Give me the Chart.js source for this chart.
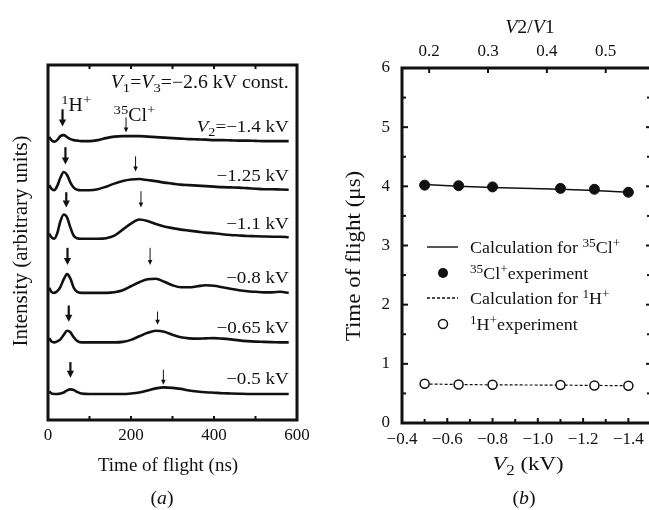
<!DOCTYPE html>
<html>
<head>
<meta charset="utf-8">
<script src="https://cdn.jsdelivr.net/npm/chart.js@4.4.0/dist/chart.umd.min.js"></script>
<style>
  html, body { margin: 0; padding: 0; background: #fff; overflow: hidden; }
  #panelA { position: absolute; left: 0; top: 0; }
  #panelB { position: absolute; left: 330px; top: 0; }
</style>
</head>
<body>
<canvas id="panelA" width="330" height="510"></canvas>
<canvas id="panelB" width="330" height="510"></canvas>
<script>
const FONT = "'Liberation Serif', 'Times New Roman', serif";
const INK = '#111';

// (a) time-of-flight spectra, one trace per V2 setting
const tofTimes = [3, 8, 15, 22, 30, 38, 46, 54, 62, 70, 80, 100, 120, 140, 160, 180, 200, 220, 240, 260,
                  280, 300, 320, 340, 360, 380, 400, 420, 440, 460, 480, 500, 520, 540, 560, 580];
const spectrumVoltages = ['−1.4', '−1.25', '−1.1', '−0.8', '−0.65', '−0.5'];
const traceOffsets = [5.0, 4.03, 3.07, 2.0, 1.02, 0];
const intensityV140 = [0.08, 0.02, -0.01, 0.02, 0.10, 0.12, 0.08, 0.04, 0.02, 0.01, 0, 0, 0.02, 0.06, 0.09, 0.10, 0.10, 0.10, 0.09, 0.08,
                       0.07, 0.06, 0.05, 0.04, 0.035, 0.03, 0.02, 0.02, 0.015, 0.01, 0.01, 0.005, 0, 0, 0, 0];
const intensityV125 = [0.10, 0.03, 0.00, 0.08, 0.25, 0.36, 0.30, 0.15, 0.05, 0.01, 0, 0, 0.02, 0.07, 0.13, 0.18, 0.21, 0.22, 0.20, 0.18,
                       0.15, 0.13, 0.11, 0.10, 0.09, 0.08, 0.07, 0.06, 0.055, 0.05, 0.04, 0.03, 0.02, 0.02, 0.015, 0.01];
const intensityV110 = [0.10, 0.03, 0.00, 0.10, 0.35, 0.48, 0.42, 0.22, 0.06, 0.01, 0, 0, 0, 0.01, 0.06, 0.18, 0.30, 0.38, 0.35, 0.29,
                       0.24, 0.21, 0.18, 0.16, 0.14, 0.12, 0.11, 0.09, 0.075, 0.065, 0.055, 0.05, 0.045, 0.04, 0.04, 0.03];
const intensityV080 = [0.10, 0.02, 0.00, 0.03, 0.12, 0.27, 0.37, 0.28, 0.10, 0.02, 0, 0, 0, 0, 0.01, 0.05, 0.13, 0.21, 0.27, 0.28,
                       0.22, 0.15, 0.11, 0.11, 0.13, 0.15, 0.14, 0.11, 0.08, 0.05, 0.03, 0.02, 0.01, 0.01, 0.02, 0];
const intensityV065 = [0.08, 0.02, 0.00, 0.02, 0.06, 0.15, 0.23, 0.20, 0.10, 0.03, 0, 0, 0, 0, 0, 0.01, 0.05, 0.12, 0.19, 0.23,
                       0.21, 0.15, 0.10, 0.08, 0.075, 0.08, 0.085, 0.075, 0.06, 0.04, 0.025, 0.015, 0.01, 0.005, 0, 0];
const intensityV050 = [0.05, 0.01, 0, 0, 0.01, 0.03, 0.07, 0.09, 0.08, 0.04, 0.01, 0, 0, 0, 0, 0, 0.01, 0.03, 0.07, 0.11,
                       0.13, 0.12, 0.10, 0.07, 0.05, 0.035, 0.025, 0.015, 0.01, 0.005, 0, 0, 0, 0, 0, 0];
const tofTickMarks = [0, 100, 200, 300, 400, 500, 600];
const tofTickLabels = [0, 200, 400, 600];
const hArrowTimes = [35, 42, 44, 47, 50, 54];
const clArrowTimes = [188, 211, 224, 246, 264, 278];

// (b) flight time against V2
const V1 = -2.6;
const v2Values = [-0.5, -0.65, -0.8, -1.1, -1.25, -1.4];
const clExperiment = [4.02, 4.01, 3.99, 3.965, 3.95, 3.90];
const clCalculation = [4.03, 4.0, 3.98, 3.95, 3.93, 3.90];
const hExperiment = [0.663, 0.651, 0.646, 0.641, 0.634, 0.629];
const hCalculation = [0.66, 0.65, 0.645, 0.64, 0.635, 0.63];
const v2TickLabels = [-0.4, -0.6, -0.8, -1.0, -1.2, -1.4];
const v2MinorTicks = [-0.5, -0.7, -0.9, -1.1, -1.3];
const ratioTickLabels = [0.2, 0.3, 0.4, 0.5];
const timeTickLabels = [0, 1, 2, 3, 4, 5, 6];
const timeMinorTicks = [0.5, 1.5, 2.5, 3.5, 4.5, 5.5];

// text with italic / super / subscript pieces
function drawRich(ctx, parts, x, y, size, align, stretch) {
  stretch = stretch || 1;
  const pieces = parts.map(([t, k]) => {
    const s = (k === 'sup' || k === 'sub') ? size * 0.74 : size;
    const f = (k === 'i' ? 'italic ' : '') + s + 'px ' + FONT;
    ctx.font = f;
    return { t, k, f, w: ctx.measureText(t).width };
  });
  const total = pieces.reduce((a, p) => a + p.w, 0) * stretch;
  const x0 = align === 'right' ? x - total : align === 'center' ? x - total / 2 : x;
  ctx.save();
  ctx.translate(x0, y);
  ctx.scale(stretch, 1);
  ctx.textAlign = 'left';
  ctx.textBaseline = 'alphabetic';
  ctx.fillStyle = INK;
  let cx = 0;
  pieces.forEach(p => {
    ctx.font = p.f;
    const dy = p.k === 'sup' ? -size * 0.4 : p.k === 'sub' ? size * 0.26 : 0;
    ctx.fillText(p.t, cx, dy);
    cx += p.w;
  });
  ctx.restore();
}

function drawArrow(ctx, x, yTop, yTip, bold) {
  const head = bold ? 7 : 5, half = bold ? 3.6 : 2.3;
  ctx.lineWidth = bold ? 2.2 : 1;
  ctx.beginPath();
  ctx.moveTo(x, yTop);
  ctx.lineTo(x, yTip - head + 1);
  ctx.stroke();
  ctx.beginPath();
  ctx.moveTo(x - half, yTip - head);
  ctx.lineTo(x + half, yTip - head);
  ctx.lineTo(x, yTip);
  ctx.closePath();
  ctx.fill();
}

function inwardTicks(ctx, scale, values, side, len, area) {
  values.forEach(v => {
    const p = scale.getPixelForValue(v);
    ctx.beginPath();
    if (side === 'bottom') { ctx.moveTo(p, area.bottom); ctx.lineTo(p, area.bottom - len); }
    if (side === 'top') { ctx.moveTo(p, area.top); ctx.lineTo(p, area.top + len); }
    if (side === 'left') { ctx.moveTo(area.left, p); ctx.lineTo(area.left + len, p); }
    if (side === 'right') { ctx.moveTo(area.right, p); ctx.lineTo(area.right - len, p); }
    ctx.stroke();
  });
}

// arrow extents above each trace baseline (data units)
const arrowExtent = {
  hTop: [0.63, 0.85, 0.92, 0.89, 0.73, 0.63], hTip: [0.29, 0.51, 0.62, 0.55, 0.41, 0.32],
  clTop: [0.47, 0.67, 0.94, 0.89, 0.61, 0.48], clTip: [0.17, 0.37, 0.62, 0.55, 0.35, 0.18]
};

const spectraDecor = {
  id: 'spectraDecor',
  afterDraw(chart) {
    const ctx = chart.ctx, a = chart.chartArea;
    const xs = chart.scales.x, ys = chart.scales.y;
    ctx.save();
    ctx.strokeStyle = INK;
    ctx.fillStyle = INK;
    ctx.lineWidth = 3;
    ctx.strokeRect(a.left, a.top, a.right - a.left, a.bottom - a.top);
    ctx.lineWidth = 2;
    inwardTicks(ctx, xs, tofTickMarks.slice(1, -1), 'bottom', 4, a);
    inwardTicks(ctx, xs, tofTickMarks.slice(1, -1), 'top', 4, a);

    traceOffsets.forEach((off, i) => {
      drawArrow(ctx, xs.getPixelForValue(hArrowTimes[i]), ys.getPixelForValue(off + arrowExtent.hTop[i]),
                ys.getPixelForValue(off + arrowExtent.hTip[i]), true);
      drawArrow(ctx, xs.getPixelForValue(clArrowTimes[i]), ys.getPixelForValue(off + arrowExtent.clTop[i]),
                ys.getPixelForValue(off + arrowExtent.clTip[i]), false);
      const parts = i === 0
        ? [['V', 'i'], ['2', 'sub'], ['=' + spectrumVoltages[i] + ' kV', '']]
        : [[spectrumVoltages[i] + ' kV', '']];
      drawRich(ctx, parts, xs.getPixelForValue(580), ys.getPixelForValue(off + 0.19), 17, 'right', 1.12);
    });

    drawRich(ctx, [['V', 'i'], ['1', 'sub'], ['=', ''], ['V', 'i'], ['3', 'sub'], ['=−2.6 kV const.', '']],
             xs.getPixelForValue(580), ys.getPixelForValue(6.06), 18, 'right', 1.1);
    drawRich(ctx, [['1', 'sup'], ['H', ''], ['+', 'sup']], xs.getPixelForValue(32), ys.getPixelForValue(5.59), 18, 'left', 1.1);
    drawRich(ctx, [['35', 'sup'], ['Cl', ''], ['+', 'sup']], xs.getPixelForValue(158), ys.getPixelForValue(5.39), 18, 'left', 1.1);

    drawRich(ctx, [['Time of flight (ns)', '']], 168, 471, 19, 'center', 1.0);
    drawRich(ctx, [['(', ''], ['a', 'i'], [')', '']], 162, 504, 18, 'center', 1.1);
    ctx.translate(27, 241);
    ctx.rotate(-Math.PI / 2);
    drawRich(ctx, [['Intensity (arbitrary units)', '']], 0, 0, 20, 'center', 1.05);
    ctx.restore();
  }
};

const tickFont = { family: FONT, size: 17 };

new Chart(document.getElementById('panelA'), {
  type: 'line',
  data: {
    datasets: [intensityV140, intensityV125, intensityV110, intensityV080, intensityV065, intensityV050].map((vals, i) => ({
      label: spectrumVoltages[i] + ' kV',
      data: vals.map((v, j) => ({ x: tofTimes[j], y: traceOffsets[i] + v })),
      borderColor: INK,
      borderWidth: 2.6,
      pointRadius: 0,
      cubicInterpolationMode: 'monotone',
      fill: false
    }))
  },
  options: {
    responsive: false,
    animation: false,
    layout: { padding: { top: 65, right: 33, left: 0, bottom: 0 } },
    plugins: { legend: { display: false }, tooltip: { enabled: false } },
    scales: {
      x: {
        type: 'linear', min: 0, max: 600,
        grid: { display: false, drawTicks: false }, border: { display: false },
        afterFit: s => { s.height = 90; },
        afterBuildTicks: s => { s.ticks = tofTickMarks.map(v => ({ value: v })); },
        ticks: {
          autoSkip: false, maxRotation: 0, padding: 5, color: INK, font: tickFont,
          callback: v => tofTickLabels.includes(v) ? String(v) : ''
        }
      },
      y: {
        type: 'linear', min: -0.515, max: 6.506,
        grid: { display: false, drawTicks: false }, border: { display: false },
        ticks: { display: false },
        afterFit: s => { s.width = 48; }
      }
    }
  },
  plugins: [spectraDecor]
});

const legendRows = [
  { y: 247, symbol: 'solid', parts: [['Calculation for ', ''], ['35', 'sup'], ['Cl', ''], ['+', 'sup']] },
  { y: 273, symbol: 'filled', parts: [['35', 'sup'], ['Cl', ''], ['+', 'sup'], ['experiment', '']] },
  { y: 298, symbol: 'dashed', parts: [['Calculation for ', ''], ['1', 'sup'], ['H', ''], ['+', 'sup']] },
  { y: 324, symbol: 'open', parts: [['1', 'sup'], ['H', ''], ['+', 'sup'], ['experiment', '']] }
];

const voltageDecor = {
  id: 'voltageDecor',
  afterDraw(chart) {
    const ctx = chart.ctx, a = chart.chartArea;
    const xs = chart.scales.x, x2 = chart.scales.x2, ys = chart.scales.y;
    ctx.save();
    ctx.strokeStyle = INK;
    ctx.fillStyle = INK;
    ctx.lineWidth = 3;
    ctx.strokeRect(a.left, a.top, a.right - a.left, a.bottom - a.top);
    ctx.lineWidth = 2;
    inwardTicks(ctx, xs, v2TickLabels.slice(1), 'bottom', 5, a);
    inwardTicks(ctx, xs, v2MinorTicks, 'bottom', 4, a);
    inwardTicks(ctx, x2, ratioTickLabels, 'top', 5, a);
    inwardTicks(ctx, ys, timeTickLabels.slice(1, -1), 'left', 6, a);
    inwardTicks(ctx, ys, timeMinorTicks, 'left', 4, a);
    inwardTicks(ctx, ys, timeTickLabels.slice(1, -1), 'right', 5, a);
    inwardTicks(ctx, ys, timeMinorTicks, 'right', 4, a);

    legendRows.forEach(row => {
      ctx.lineWidth = 1.4;
      if (row.symbol === 'solid' || row.symbol === 'dashed') {
        ctx.setLineDash(row.symbol === 'dashed' ? [3, 2] : []);
        ctx.beginPath();
        ctx.moveTo(97, row.y);
        ctx.lineTo(128, row.y);
        ctx.stroke();
        ctx.setLineDash([]);
      } else {
        ctx.beginPath();
        ctx.arc(113, row.y, row.symbol === 'filled' ? 5 : 4.5, 0, Math.PI * 2);
        if (row.symbol === 'filled') ctx.fill();
        else { ctx.lineWidth = 1.5; ctx.stroke(); }
      }
      drawRich(ctx, row.parts, 140, row.y + 6, 16, 'left', 1.12);
    });

    drawRich(ctx, [['V', 'i'], ['2', ''], ['/', ''], ['V', 'i'], ['1', '']], 200, 33, 18, 'center', 1.1);
    drawRich(ctx, [['V', 'i'], ['2', 'sub'], [' (kV)', '']], 198, 470, 19, 'center', 1.2);
    drawRich(ctx, [['(', ''], ['b', 'i'], [')', '']], 194, 504, 18, 'center', 1.1);
    ctx.translate(30, 256);
    ctx.rotate(-Math.PI / 2);
    drawRich(ctx, [['Time of flight (μs)', '']], 0, 0, 20, 'center', 1.15);
    ctx.restore();
  }
};

const pointsOf = vals => vals.map((v, i) => ({ x: v2Values[i], y: v }));

new Chart(document.getElementById('panelB'), {
  type: 'line',
  data: {
    datasets: [
      { label: '35Cl+ experiment', data: pointsOf(clExperiment), showLine: false, pointRadius: 5,
        pointBackgroundColor: INK, pointBorderColor: INK, pointBorderWidth: 1 },
      { label: '1H+ experiment', data: pointsOf(hExperiment), showLine: false, pointRadius: 4.5,
        pointBackgroundColor: '#fff', pointBorderColor: INK, pointBorderWidth: 1.5 },
      { label: 'Calculation for 35Cl+', data: pointsOf(clCalculation), borderColor: INK, borderWidth: 1.5, pointRadius: 0 },
      { label: 'Calculation for 1H+', data: pointsOf(hCalculation), borderColor: INK, borderWidth: 1.2,
        borderDash: [3, 2], pointRadius: 0 }
    ]
  },
  options: {
    responsive: false,
    animation: false,
    layout: { padding: { top: 0, right: 9, left: 0, bottom: 0 } },
    plugins: { legend: { display: false }, tooltip: { enabled: false } },
    scales: {
      x: {
        type: 'linear', position: 'bottom', reverse: true, min: -1.5, max: -0.4,
        grid: { display: false, drawTicks: false }, border: { display: false },
        afterFit: s => { s.height = 87; },
        afterBuildTicks: s => { s.ticks = v2TickLabels.map(v => ({ value: v })); },
        ticks: { autoSkip: false, maxRotation: 0, padding: 6, color: INK, font: tickFont,
                 callback: v => '−' + Math.abs(v).toFixed(1) }
      },
      x2: {
        type: 'linear', position: 'top', min: -0.4 / V1, max: -1.5 / V1,
        grid: { display: false, drawTicks: false }, border: { display: false },
        afterFit: s => { s.height = 68; },
        afterBuildTicks: s => { s.ticks = ratioTickLabels.map(v => ({ value: v })); },
        ticks: { autoSkip: false, maxRotation: 0, padding: 6, color: INK, font: tickFont,
                 callback: v => v.toFixed(1) }
      },
      y: {
        type: 'linear', min: 0, max: 6,
        grid: { display: false, drawTicks: false }, border: { display: false },
        afterFit: s => { s.width = 72; },
        afterBuildTicks: s => { s.ticks = timeTickLabels.map(v => ({ value: v })); },
        ticks: { padding: 12, color: INK, font: tickFont, callback: v => String(v) }
      }
    }
  },
  plugins: [voltageDecor]
});
</script>
</body>
</html>
